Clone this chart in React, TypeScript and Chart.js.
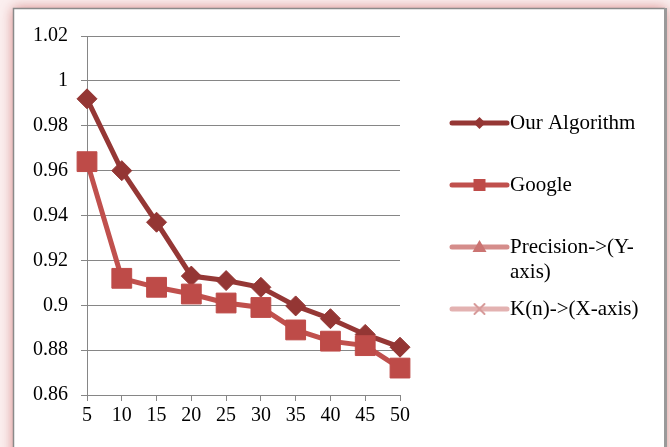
import React, { useEffect, useRef } from "react";
import { Chart, registerables } from "chart.js";

Chart.register(...registerables);

// K(n) values along the x axis
const categories = ["5", "10", "15", "20", "25", "30", "35", "40", "45", "50"];

// Precision per K(n)
const ourAlgorithm = [0.992, 0.96, 0.937, 0.913, 0.911, 0.908, 0.8997, 0.894, 0.887, 0.8813];
const google = [0.964, 0.912, 0.908, 0.905, 0.901, 0.899, 0.889, 0.884, 0.882, 0.872];

// Legend-only entries describing the axes
const precisionAxis: number[] = [];
const kAxis: number[] = [];

const yMin = 0.86;
const yMax = 1.02;
const yStep = 0.02;

const FONT = "'Liberation Serif', 'Times New Roman', serif";

type LegendRow = {
  lines: string[];
  line: string;
  marker: string;
  style: "diamond" | "square" | "triangle" | "cross";
};

const legendRows: LegendRow[] = [
  { lines: ["Our Algorithm"], line: "#953735", marker: "#943634", style: "diamond" },
  { lines: ["Google"], line: "#C0504D", marker: "#BE4B48", style: "square" },
  { lines: ["Precision->(Y-", "axis)"], line: "#D58D8B", marker: "#CB7472", style: "triangle" },
  { lines: ["K(n)->(X-axis)"], line: "#E3B2B1", marker: "#D79B9A", style: "cross" },
];

const framePlugin = {
  id: "frame",
  beforeDraw(chart: Chart) {
    const ctx = chart.ctx;
    const w = chart.width;
    const h = chart.height;
    ctx.save();
    ctx.fillStyle = "#fbf0f0";
    ctx.fillRect(0, 0, w, h);
    // soft red glow around the panel
    ctx.shadowColor = "rgba(200, 90, 88, 0.7)";
    ctx.shadowBlur = 12;
    ctx.fillStyle = "#ffffff";
    ctx.fillRect(13, 8, 653, h + 40);
    ctx.shadowColor = "transparent";
    ctx.shadowBlur = 0;
    // panel border
    ctx.strokeStyle = "#8a8a8a";
    ctx.lineWidth = 1.5;
    ctx.beginPath();
    ctx.moveTo(13.5, h + 5);
    ctx.lineTo(13.5, 8.5);
    ctx.lineTo(665, 8.5);
    ctx.stroke();
    ctx.lineWidth = 3;
    ctx.strokeStyle = "#9a9a9a";
    ctx.beginPath();
    ctx.moveTo(665.5, 8);
    ctx.lineTo(665.5, h + 5);
    ctx.stroke();
    ctx.restore();
  },
};

function drawMarker(ctx: CanvasRenderingContext2D, style: LegendRow["style"], x: number, y: number, color: string) {
  ctx.save();
  ctx.fillStyle = color;
  ctx.strokeStyle = color;
  ctx.beginPath();
  if (style === "diamond") {
    ctx.moveTo(x, y - 6);
    ctx.lineTo(x + 6, y);
    ctx.lineTo(x, y + 6);
    ctx.lineTo(x - 6, y);
    ctx.closePath();
    ctx.fill();
  } else if (style === "square") {
    ctx.rect(x - 6, y - 6, 12, 12);
    ctx.fill();
  } else if (style === "triangle") {
    ctx.moveTo(x, y - 7);
    ctx.lineTo(x + 7, y + 5);
    ctx.lineTo(x - 7, y + 5);
    ctx.closePath();
    ctx.fill();
  } else {
    ctx.lineWidth = 2;
    ctx.moveTo(x - 5, y - 5);
    ctx.lineTo(x + 5, y + 5);
    ctx.moveTo(x + 5, y - 5);
    ctx.lineTo(x - 5, y + 5);
    ctx.stroke();
  }
  ctx.restore();
}

const legendPlugin = {
  id: "sideLegend",
  afterDraw(chart: Chart) {
    const ctx = chart.ctx;
    const x0 = 452;
    const x1 = 507;
    const top = 123;
    const gap = 62;
    ctx.save();
    legendRows.forEach((row, i) => {
      const y = top + i * gap;
      ctx.strokeStyle = row.line;
      ctx.lineWidth = 5;
      ctx.lineCap = "round";
      ctx.beginPath();
      ctx.moveTo(x0, y);
      ctx.lineTo(x1, y);
      ctx.stroke();
      drawMarker(ctx, row.style, (x0 + x1) / 2, y, row.marker);
      ctx.fillStyle = "#000";
      ctx.font = `21px ${FONT}`;
      ctx.textAlign = "left";
      ctx.textBaseline = "middle";
      row.lines.forEach((t, j) => ctx.fillText(t, 510, y + j * 25));
    });
    ctx.restore();
  },
};

export default function App() {
  const canvasRef = useRef<HTMLCanvasElement | null>(null);

  useEffect(() => {
    if (!canvasRef.current) return;
    const chart = new Chart(canvasRef.current, {
      type: "line",
      data: {
        labels: categories,
        datasets: [
          {
            label: "Our Algorithm",
            data: ourAlgorithm,
            borderColor: "#953735",
            backgroundColor: "#943634",
            pointBackgroundColor: "#943634",
            pointBorderColor: "#943634",
            pointStyle: "rectRot",
            pointRadius: 10,
            pointBorderWidth: 1,
            borderWidth: 5,
            tension: 0,
            order: 2,
          },
          {
            label: "Google",
            data: google,
            borderColor: "#C0504D",
            backgroundColor: "#BE4B48",
            pointBackgroundColor: "#BE4B48",
            pointBorderColor: "#BE4B48",
            pointStyle: "rect",
            pointRadius: 14,
            pointBorderWidth: 1,
            borderWidth: 5,
            tension: 0,
            order: 1,
          },
          {
            label: "Precision->(Y-axis)",
            data: precisionAxis,
            borderColor: "#D58D8B",
            pointStyle: "triangle",
            order: 3,
          },
          {
            label: "K(n)->(X-axis)",
            data: kAxis,
            borderColor: "#E3B2B1",
            pointStyle: "crossRot",
            order: 4,
          },
        ],
      },
      options: {
        responsive: false,
        animation: false,
        layout: { padding: { left: 0, top: 36, right: 270, bottom: 0 } },
        plugins: {
          legend: { display: false },
          tooltip: { enabled: false },
        },
        scales: {
          x: {
            type: "category",
            offset: false,
            afterFit: (scale: any) => {
              scale.height = 52;
            },
            grid: {
              display: true,
              drawOnChartArea: false,
              drawTicks: true,
              tickLength: 6,
              color: "#868686",
            },
            border: { display: true, color: "#868686", width: 1 },
            ticks: {
              color: "#000",
              font: { family: FONT, size: 20 },
              padding: 3,
              maxRotation: 0,
              autoSkip: false,
            },
          },
          y: {
            min: yMin,
            max: yMax,
            afterFit: (scale: any) => {
              scale.width = 87;
            },
            grid: {
              color: "#868686",
              drawTicks: true,
              tickLength: 6,
            },
            border: { display: true, color: "#868686", width: 1 },
            ticks: {
              stepSize: yStep,
              color: "#000",
              font: { family: FONT, size: 20 },
              padding: 13,
              callback: (v: any) => String(Number(Number(v).toFixed(2))),
            },
          },
        },
      },
      plugins: [framePlugin, legendPlugin],
    });
    return () => chart.destroy();
  }, []);

  return (
    <div style={{ position: "fixed", left: 0, top: 0, width: 670, height: 447 }}>
      <canvas ref={canvasRef} width={670} height={447} style={{ display: "block" }} />
    </div>
  );
}
